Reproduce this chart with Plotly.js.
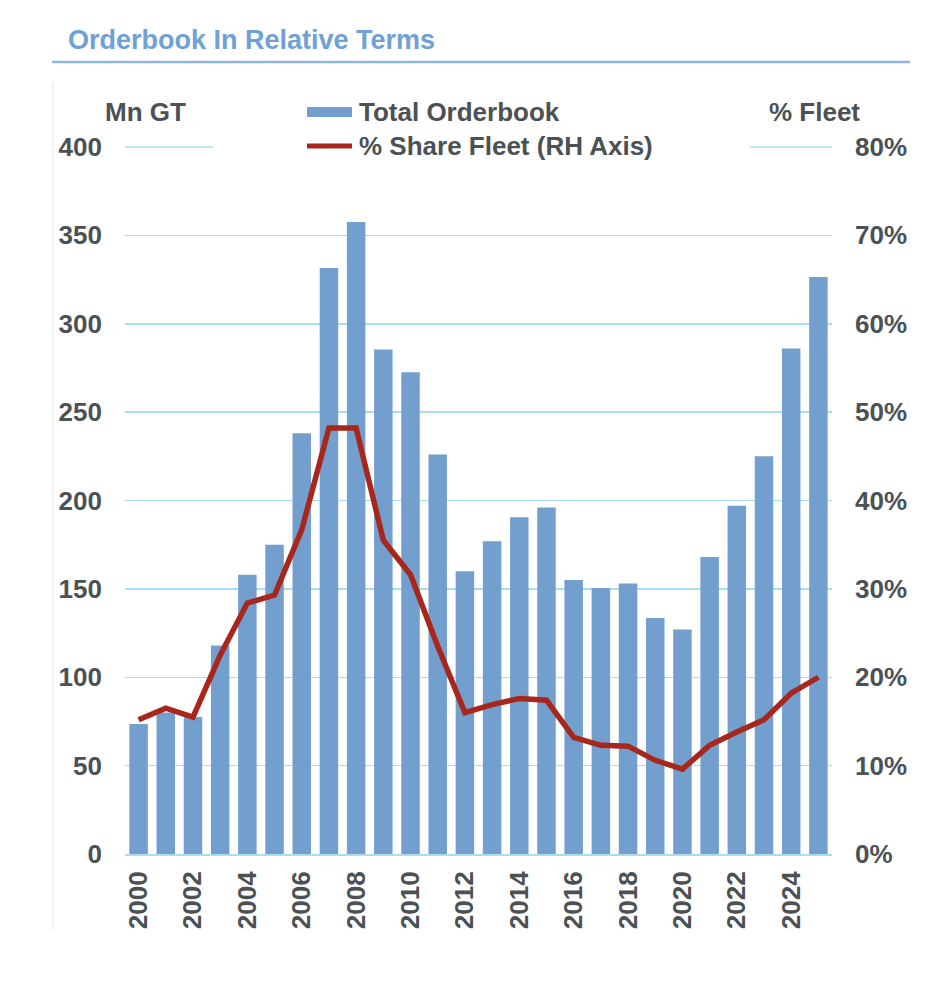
<!DOCTYPE html>
<html>
<head>
<meta charset="utf-8">
<script src="https://cdn.plot.ly/plotly-3.0.1.min.js"></script>
<style>html,body{margin:0;padding:0;background:#fff;}#chart{width:945px;height:1000px;}</style>
</head>
<body>
<div id="chart"></div>
<script>
// ---- data ----
const years = [2000,2001,2002,2003,2004,2005,2006,2007,2008,2009,2010,2011,2012,
               2013,2014,2015,2016,2017,2018,2019,2020,2021,2022,2023,2024,2025];
const orderbookMnGT = [73.5,80,77.5,118,158,175,238,331.5,357.5,285.5,272.5,226,160,
                       177,190.5,196,155,150.5,153,133.5,127,168,197,225,286,326.5];
const shareFleet = [0.152,0.165,0.155,0.225,0.284,0.293,0.367,0.482,0.482,0.355,0.316,0.235,0.160,
                    0.169,0.176,0.174,0.132,0.123,0.122,0.106,0.096,0.123,0.138,0.152,0.182,0.200];
const yearTicks = [2000,2002,2004,2006,2008,2010,2012,2014,2016,2018,2020,2022,2024];
const seriesNames = ['Total Orderbook', '% Share Fleet (RH Axis)'];
const titleText = 'Orderbook In Relative Terms';
const leftUnit = 'Mn GT';
const rightUnit = '% Fleet';
const yMax = 400;

// ---- styling ----
const W = 945, H = 1000;
const M = {l: 125, r: 113, t: 147, b: 146};
const PW = W - M.l - M.r, PH = H - M.t - M.b;
const px = x => (x - M.l) / PW;
const py = y => (H - M.b - y) / PH;
const FONT = 'Liberation Sans, Arial, sans-serif';
const TXT = '#4b5154';
const GRID = '#aadcf3';
const BAR = '#739fcf';
const LINE = '#a8271d';
const tf = {family: FONT, size: 26, color: TXT, weight: 'bold'};

const traces = [
  {type: 'bar', x: years, y: orderbookMnGT, name: seriesNames[0],
   marker: {color: BAR}, yaxis: 'y', hoverinfo: 'x+y'},
  {type: 'scatter', mode: 'lines', x: years, y: shareFleet, name: seriesNames[1],
   line: {color: LINE, width: 5.5}, yaxis: 'y2'}
];

const layout = {
  width: W, height: H,
  margin: M,
  paper_bgcolor: '#fff', plot_bgcolor: '#fff',
  showlegend: false,
  bargap: 0.32,
  font: tf,
  title: {text: titleText, xref: 'container', yref: 'container',
          x: 68 / W, y: 1 - 40 / H, xanchor: 'left', yanchor: 'middle',
          font: {family: FONT, size: 27, color: '#6fa0d6', weight: 'bold'}},
  xaxis: {
    range: [1999.5, 2025.5], tickmode: 'array', tickvals: yearTicks,
    ticktext: yearTicks.map(String), tickangle: -90,
    showgrid: false, zeroline: false, showline: true, linecolor: GRID, linewidth: 2,
    ticks: '', ticklabelstandoff: 5, tickfont: tf
  },
  yaxis: {
    range: [0, yMax], dtick: 50, showgrid: true, gridcolor: GRID, gridwidth: 1.5,
    zeroline: false, ticks: '', ticklabelstandoff: 22, tickfont: tf
  },
  yaxis2: {
    overlaying: 'y', side: 'right', range: [0, 0.8], dtick: 0.1, tickformat: '.0%',
    showgrid: false, zeroline: false, ticks: '', ticklabelstandoff: 22, tickfont: tf
  },
  shapes: [
    // faint frame line on the left
    {type: 'line', xref: 'paper', yref: 'paper', x0: px(53), x1: px(53), y0: py(82), y1: py(930),
     line: {color: '#ececec', width: 1.5}, layer: 'below'},
    // title underline
    {type: 'line', xref: 'paper', yref: 'paper', x0: px(52), x1: px(910), y0: py(62), y1: py(62),
     line: {color: '#8fb5e3', width: 2.5}},
    // top gridline (at the top of the plot area), interrupted by the legend
    {type: 'line', xref: 'paper', yref: 'paper', x0: 0, x1: px(213), y0: 1, y1: 1,
     line: {color: GRID, width: 1.5}},
    {type: 'line', xref: 'paper', yref: 'paper', x0: px(750), x1: 1, y0: 1, y1: 1,
     line: {color: GRID, width: 1.5}},
    // legend symbols
    {type: 'rect', xref: 'paper', yref: 'paper', x0: px(307), x1: px(352), y0: py(117), y1: py(107),
     fillcolor: BAR, line: {width: 0}},
    {type: 'line', xref: 'paper', yref: 'paper', x0: px(307), x1: px(352), y0: py(146), y1: py(146),
     line: {color: LINE, width: 5}}
  ],
  annotations: [
    {text: leftUnit, xref: 'paper', yref: 'paper', x: px(103), y: py(112), xanchor: 'left', yanchor: 'middle',
     showarrow: false, font: tf},
    {text: rightUnit, xref: 'paper', yref: 'paper', x: px(862), y: py(112), xanchor: 'right', yanchor: 'middle',
     showarrow: false, font: tf},
    {text: seriesNames[0], xref: 'paper', yref: 'paper', x: px(357), y: py(112), xanchor: 'left', yanchor: 'middle',
     showarrow: false, font: tf},
    {text: seriesNames[1], xref: 'paper', yref: 'paper', x: px(357), y: py(146), xanchor: 'left', yanchor: 'middle',
     showarrow: false, font: tf}
  ]
};

Plotly.newPlot('chart', traces, layout, {staticPlot: true, displayModeBar: false});
</script>
</body>
</html>
